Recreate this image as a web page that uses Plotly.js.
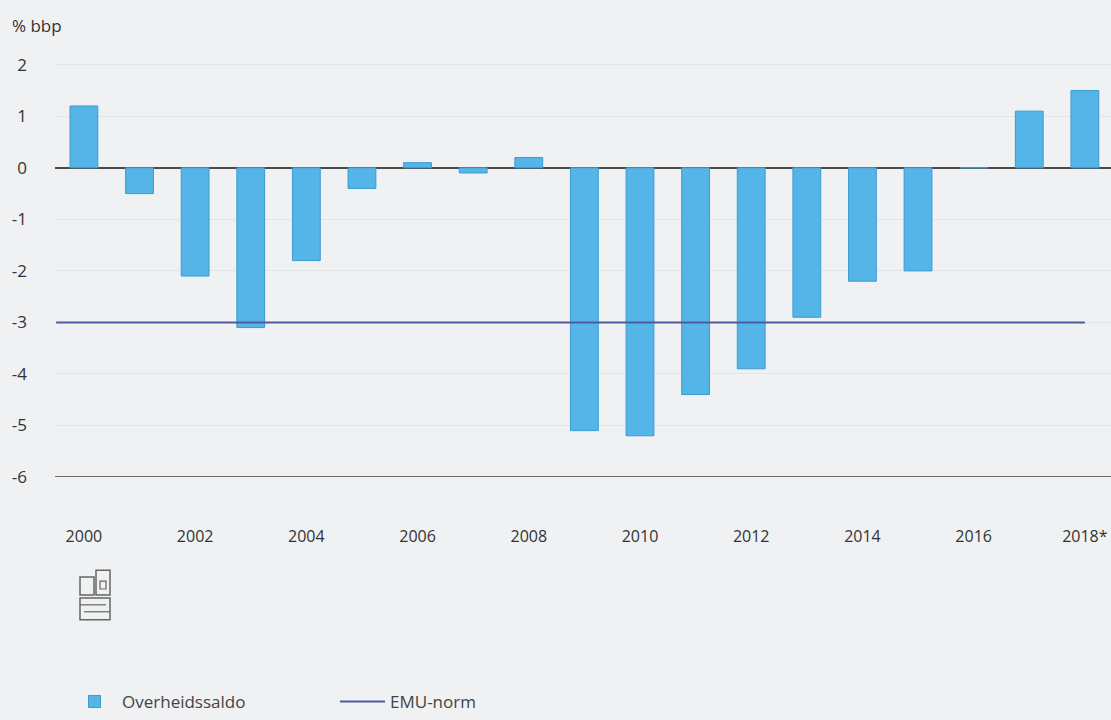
<!DOCTYPE html>
<html>
<head>
<meta charset="utf-8">
<script src="https://cdn.plot.ly/plotly-3.0.1.min.js"></script>
<style>html,body{margin:0;padding:0;background:#eff1f3;}#chart{width:1111px;height:720px;}</style>
</head>
<body>
<div id="chart"></div>
<script>
// Data
const years = [2000,2001,2002,2003,2004,2005,2006,2007,2008,2009,2010,2011,2012,2013,2014,2015,2016,2017,2018];
const overheidssaldo = [1.2,-0.5,-2.1,-3.1,-1.8,-0.4,0.1,-0.1,0.2,-5.1,-5.2,-4.4,-3.9,-2.9,-2.2,-2.0,0.0,1.1,1.5];
const emuYears = [1999.5, 2018];
const emuNorm = [-3, -3];
const xTickVals = [2000,2002,2004,2006,2008,2010,2012,2014,2016,2018];
const xTickText = ['2000','2002','2004','2006','2008','2010','2012','2014','2016','2018*'];
const yTickVals = [2,1,0,-1,-2,-3,-4,-5,-6];
const yTickText = ['2','1','0','-1','-2','-3','-4','-5','-6'];

const font = 'Open Sans, Lato, DejaVu Sans, sans-serif';
const traces = [
  {type:'bar', name:'Overheidssaldo', x:years, y:overheidssaldo, width:0.5,
   marker:{color:'#56b5e8', line:{color:'#3b9bd3', width:1}}, hoverinfo:'x+y'},
  {type:'scatter', mode:'lines', name:'EMU-norm', x:emuYears, y:emuNorm,
   line:{color:'#4f5aa0', width:2}}
];
const px = v => (v-55)/1056;
const py = v => (720-239-v)/442;
const logo = '#666';
const layout = {
  width:1111, height:720,
  paper_bgcolor:'#eff1f3', plot_bgcolor:'#eff1f3',
  margin:{l:55, r:0, t:39, b:239},
  font:{family:font, color:'#333', size:16},
  bargap:0.5,
  xaxis:{range:[1999.48, 2018.47], tickvals:xTickVals, ticktext:xTickText,
         showgrid:false, zeroline:false, showline:false, ticks:'',
         ticklabelstandoff:48, tickfont:{size:16, color:'#333'}},
  yaxis:{range:[-6, 2.5], tickvals:yTickVals, ticktext:yTickText, showgrid:true, gridcolor:'#e3e5e8', gridwidth:1,
         zeroline:true, zerolinecolor:'#4a4a4a', zerolinewidth:2.5,
         showline:false, ticks:'', ticklabelstandoff:27, tickfont:{size:17, color:'#333'}},
  shapes:[
    {type:'line', xref:'paper', yref:'y', x0:0, x1:1, y0:-6, y1:-6, line:{color:'#6d6d6d', width:2}},
    // cbs logo approximation
    {type:'rect', xref:'paper', yref:'paper', x0:px(80), x1:px(94), y0:py(582), y1:py(600), line:{color:logo, width:1.5}},
    {type:'rect', xref:'paper', yref:'paper', x0:px(96), x1:px(110), y0:py(575), y1:py(600), line:{color:logo, width:1.5}},
    {type:'rect', xref:'paper', yref:'paper', x0:px(100), x1:px(106), y0:py(586), y1:py(594), line:{color:logo, width:1.2}},
    {type:'rect', xref:'paper', yref:'paper', x0:px(80), x1:px(110), y0:py(603), y1:py(625), line:{color:logo, width:1.5}},
    {type:'line', xref:'paper', yref:'paper', x0:px(80), x1:px(106), y0:py(610), y1:py(610), line:{color:logo, width:1.2}},
    {type:'line', xref:'paper', yref:'paper', x0:px(84), x1:px(110), y0:py(617), y1:py(617), line:{color:logo, width:1.2}}
  ],
  annotations:[
    {text:'% bbp', xref:'paper', yref:'paper', x:px(10), y:py(25),
     xanchor:'left', yanchor:'middle', showarrow:false, font:{size:17, color:'#333'}}
  ],
  showlegend:true,
  legend:{orientation:'h', x:px(67), y:py(708), xanchor:'left', yanchor:'middle',
          font:{size:17, color:'#444'}, bgcolor:'rgba(0,0,0,0)', entrywidth:208, entrywidthmode:'pixels',
          itemwidth:45, traceorder:'normal'}
};
Plotly.newPlot('chart', traces, layout, {displayModeBar:false, staticPlot:true});
</script>
</body>
</html>
